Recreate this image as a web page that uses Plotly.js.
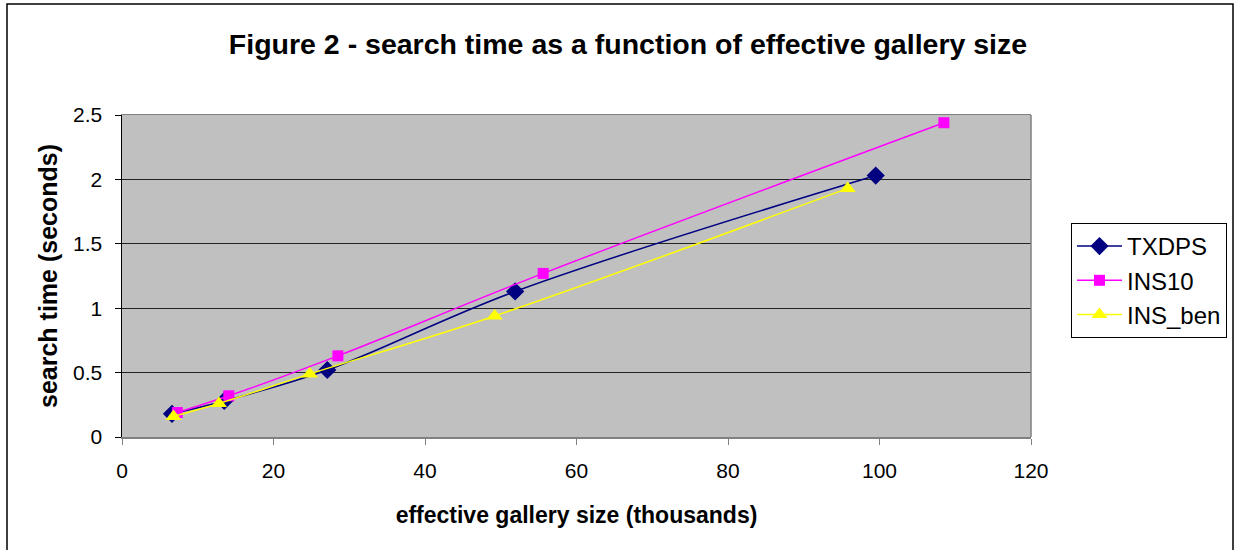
<!DOCTYPE html>
<html>
<head>
<meta charset="utf-8">
<script src="https://cdn.plot.ly/plotly-3.0.1.min.js"></script>
<style>
  html, body { margin: 0; padding: 0; background: #ffffff; }
  #chart { width: 1235px; height: 550px; }
</style>
</head>
<body>
<div id="chart"></div>
<script>
// Data
const seriesNames = ["TXDPS", "INS10", "INS_ben"];
const txdpsX = [6.6, 13.5, 27.1, 51.9, 99.5];
const txdpsY = [0.18, 0.28, 0.52, 1.13, 2.03];
const ins10X = [7.3, 14.1, 28.5, 55.6, 108.5];
const ins10Y = [0.19, 0.32, 0.63, 1.27, 2.44];
const insBenX = [6.8, 12.8, 24.8, 49.2, 95.8];
const insBenY = [0.16, 0.26, 0.49, 0.94, 1.93];
const xTicks = [0, 20, 40, 60, 80, 100, 120];
const yTicks = [0, 0.5, 1, 1.5, 2, 2.5];

const FONT = "Liberation Sans, Arial, sans-serif";

const traces = [
  {
    x: txdpsX, y: txdpsY, name: seriesNames[0], type: "scatter", mode: "lines+markers",
    line: { color: "#000080", width: 1.5, shape: "spline", smoothing: 1 },
    marker: { symbol: "diamond", size: 14, color: "#000080" }
  },
  {
    x: ins10X, y: ins10Y, name: seriesNames[1], type: "scatter", mode: "lines+markers",
    line: { color: "#FF00FF", width: 1.5, shape: "spline", smoothing: 1 },
    marker: { symbol: "square", size: 11, color: "#FF00FF" }
  },
  {
    x: insBenX, y: insBenY, name: seriesNames[2], type: "scatter", mode: "lines+markers",
    line: { color: "#FFFF00", width: 1.5, shape: "spline", smoothing: 1 },
    marker: { symbol: "triangle-up", size: 14, color: "#FFFF00" }
  }
];

const L = 122, R = 1031, T = 115, B = 437;
const W = R - L, H = B - T;
function px(x) { return (x - L) / W; }
function py(y) { return (B - y) / H; }

const layout = {
  width: 1235, height: 550,
  margin: { l: L, r: 1235 - R, t: T, b: 550 - B, pad: 0 },
  paper_bgcolor: "#ffffff",
  plot_bgcolor: "#C0C0C0",
  font: { family: FONT, size: 21, color: "#000000" },
  title: {
    text: "<b>Figure 2 - search time as a function of effective gallery size</b>",
    font: { family: FONT, size: 28.5, color: "#000000" },
    x: 628 / 1235, xref: "container", xanchor: "center",
    y: 1 - 44 / 550, yref: "container", yanchor: "middle"
  },
  xaxis: {
    range: [0, 120], tickvals: xTicks, ticktext: xTicks.map(String),
    showgrid: false, zeroline: false, automargin: false,
    showline: true, linecolor: "#808080", linewidth: 1.5, mirror: true,
    ticks: "outside", ticklen: 6, tickcolor: "#808080", tickwidth: 1,
    ticklabelstandoff: 8,
    tickfont: { family: FONT, size: 21, color: "#000000" },
    title: { text: "<b>effective gallery size (thousands)</b>", font: { family: FONT, size: 23, color: "#000000" }, standoff: 26 }
  },
  yaxis: {
    range: [0, 2.5], tickvals: yTicks, ticktext: yTicks.map(String),
    showgrid: true, gridcolor: "#222222", gridwidth: 1, zeroline: false, automargin: false,
    showline: true, linecolor: "#000000", linewidth: 1.5,
    ticks: "outside", ticklen: 6, tickcolor: "#000000", tickwidth: 1,
    ticklabelstandoff: 8,
    tickfont: { family: FONT, size: 21, color: "#000000" },
    title: { text: "<b>search time (seconds)</b>", font: { family: FONT, size: 25, color: "#000000" }, standoff: 8 }
  },
  legend: {
    xref: "container", yref: "container",
    x: 1071 / 1235, y: 1 - 223 / 550, xanchor: "left", yanchor: "top",
    bgcolor: "#ffffff", bordercolor: "#000000", borderwidth: 1,
    font: { family: FONT, size: 24, color: "#000000" },
    itemwidth: 45,
    tracegroupgap: 0
  },
  shapes: [
    { type: "line", xref: "paper", yref: "paper", x0: 1, x1: 1, y0: 0, y1: 1,
      line: { color: "#808080", width: 1.5 }, layer: "above" },
    { type: "rect", xref: "paper", yref: "paper",
      x0: px(7), x1: px(1233), y0: py(4), y1: py(560),
      line: { color: "#000000", width: 1.5 }, fillcolor: "rgba(0,0,0,0)", layer: "above" }
  ],
  showlegend: true
};

Plotly.newPlot("chart", traces, layout, { displayModeBar: false, staticPlot: true });
</script>
</body>
</html>
